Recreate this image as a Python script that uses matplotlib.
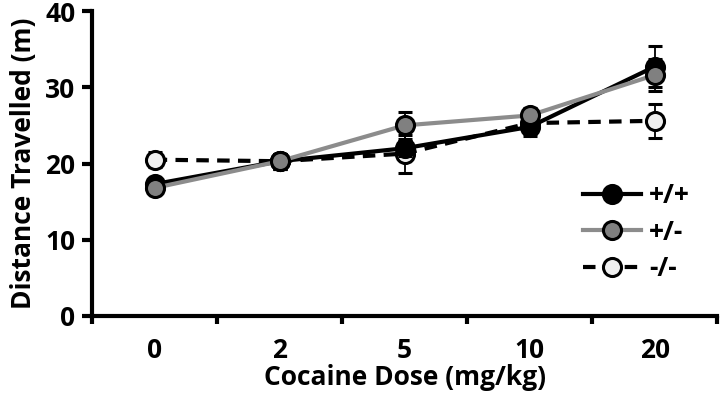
import numpy as np
import matplotlib.pyplot as plt
from matplotlib.ticker import FixedLocator

plt.rcParams["font.family"] = ["Open Sans", "DejaVu Sans"]
plt.rcParams["font.weight"] = "bold"

doses = ["0", "2", "5", "10", "20"]

# distance travelled (m), mean and error per genotype
wt_mean = [17.3, 20.3, 22.0, 24.8, 32.7]
wt_err = [0.7, 1.0, 1.0, 1.2, 2.7]
het_mean = [16.8, 20.3, 25.0, 26.3, 31.6]
het_err = [0.5, 1.0, 1.8, 1.0, 2.1]
ko_mean = [20.5, 20.3, 21.3, 25.3, 25.6]
ko_err = [1.0, 1.0, 2.5, 1.0, 2.2]

x = np.arange(len(doses))

fig = plt.figure(figsize=(7.2, 4.08), dpi=100)
ax = fig.add_axes([0.128, 0.2255, 0.868, 0.7475])

# draw -/- first so +/+ and +/- lines lay over it like the original
ax.errorbar(x, ko_mean, yerr=ko_err, color="black", lw=3, ls=(0, (3, 2)),
            marker="o", ms=13, mfc="#efefef", mec="black", mew=2.2,
            ecolor="black", elinewidth=1.3, capsize=5, capthick=1.3, label="-/-", zorder=3)
ax.errorbar(x, wt_mean, yerr=wt_err, color="black", lw=3,
            marker="o", ms=13, mfc="black", mec="black", mew=2.2,
            ecolor="black", elinewidth=1.3, capsize=5, capthick=1.3, label="+/+", zorder=4)
ax.errorbar(x, het_mean, yerr=het_err, color="#8c8c8c", lw=3,
            marker="o", ms=13, mfc="#808080", mec="black", mew=2.2,
            ecolor="black", elinewidth=1.3, capsize=5, capthick=1.3, label="+/-", zorder=5)

ax.set_xlim(-0.5, 4.5)
ax.set_ylim(0, 40)
ax.set_yticks([0, 10, 20, 30, 40])
ax.set_xticks(x)
ax.set_xticklabels(doses)
ax.xaxis.set_minor_locator(FixedLocator(np.arange(-0.5, 5, 1.0)))

ax.tick_params(axis="x", which="major", length=0, labelsize=19, pad=15)
ax.tick_params(axis="x", which="minor", length=6, width=3, direction="out")
ax.tick_params(axis="y", length=7, width=3, direction="out", labelsize=19, pad=5)

for s in ["top", "right"]:
    ax.spines[s].set_visible(False)
for s in ["left", "bottom"]:
    ax.spines[s].set_linewidth(3)

ax.set_xlabel("Cocaine Dose (mg/kg)", fontsize=19, fontweight="bold", labelpad=0)
ax.set_ylabel("Distance Travelled (m)", fontsize=19, fontweight="bold", labelpad=6)

h, l = ax.get_legend_handles_labels()
order = [1, 2, 0]
leg = ax.legend([h[i][0] for i in order], [l[i] for i in order],
                loc="center left", bbox_to_anchor=(0.786, 0.275), frameon=False,
                borderpad=0, borderaxespad=0,
                fontsize=19, handlelength=2.2, handletextpad=0.3, labelspacing=0.35)
for t in leg.get_texts():
    t.set_fontweight("bold")

fig.savefig("out.png", dpi=100)
